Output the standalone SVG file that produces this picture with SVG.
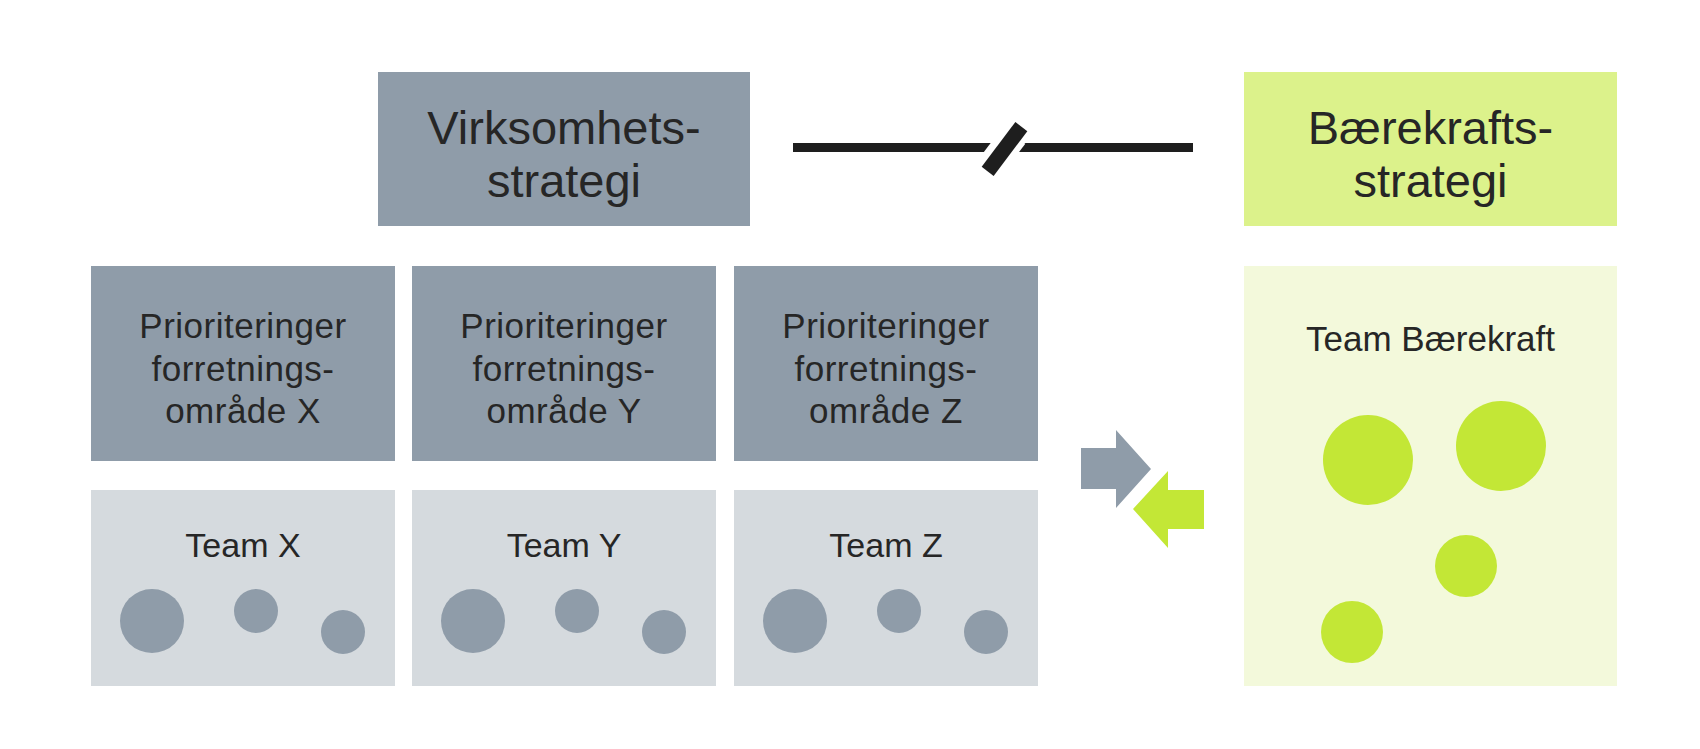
<svg xmlns="http://www.w3.org/2000/svg" width="1700" height="749" viewBox="0 0 1700 749">
  <style>
    .dark { fill: #8f9ca9; }
    .light { fill: #d5dade; }
    .ghead { fill: #dcf28b; }
    .gbody { fill: #f3f9db; }
    .gdot { fill: #c3e736; }
    .ddot { fill: #8f9ca9; }
    text { font-family: "Liberation Sans", Arial, sans-serif; fill: #262626; text-anchor: middle; }
    .h { font-size: 47px; }
    .p { font-size: 35px; }
    .t { font-size: 34px; }
  </style>
  <rect width="1700" height="749" fill="#ffffff"/>

  <g id="virksomhetsstrategi">
    <rect class="dark" x="378" y="72" width="372" height="154"/>
    <text class="h" x="564" y="144">Virksomhets-</text>
    <text class="h" x="564" y="197">strategi</text>
  </g>

  <g id="baerekraftsstrategi">
    <rect class="ghead" x="1244" y="72" width="373" height="154"/>
    <text class="h" x="1430.5" y="144">Bærekrafts-</text>
    <text class="h" x="1430.5" y="197">strategi</text>
  </g>

  <g id="prioriteringer-x">
    <rect class="dark" x="91" y="266" width="304" height="195"/>
    <text class="p" x="243" y="338" letter-spacing="0.5">Prioriteringer</text>
    <text class="p" x="243" y="381" letter-spacing="0.5">forretnings-</text>
    <text class="p" x="243" y="423" letter-spacing="0.5">område X</text>
  </g>
  <g id="prioriteringer-y">
    <rect class="dark" x="412" y="266" width="304" height="195"/>
    <text class="p" x="564" y="338" letter-spacing="0.5">Prioriteringer</text>
    <text class="p" x="564" y="381" letter-spacing="0.5">forretnings-</text>
    <text class="p" x="564" y="423" letter-spacing="0.5">område Y</text>
  </g>
  <g id="prioriteringer-z">
    <rect class="dark" x="734" y="266" width="304" height="195"/>
    <text class="p" x="886" y="338" letter-spacing="0.5">Prioriteringer</text>
    <text class="p" x="886" y="381" letter-spacing="0.5">forretnings-</text>
    <text class="p" x="886" y="423" letter-spacing="0.5">område Z</text>
  </g>

  <g id="team-x">
    <rect class="light" x="91" y="490" width="304" height="196"/>
    <text class="t" x="243" y="557">Team X</text>
    <circle class="ddot" cx="152" cy="621" r="32"/>
    <circle class="ddot" cx="256" cy="611" r="22"/>
    <circle class="ddot" cx="343" cy="632" r="22"/>
  </g>
  <g id="team-y">
    <rect class="light" x="412" y="490" width="304" height="196"/>
    <text class="t" x="564" y="557">Team Y</text>
    <circle class="ddot" cx="473" cy="621" r="32"/>
    <circle class="ddot" cx="577" cy="611" r="22"/>
    <circle class="ddot" cx="664" cy="632" r="22"/>
  </g>
  <g id="team-z">
    <rect class="light" x="734" y="490" width="304" height="196"/>
    <text class="t" x="886" y="557">Team Z</text>
    <circle class="ddot" cx="795" cy="621" r="32"/>
    <circle class="ddot" cx="899" cy="611" r="22"/>
    <circle class="ddot" cx="986" cy="632" r="22"/>
  </g>

  <g id="team-baerekraft">
    <rect class="gbody" x="1244" y="266" width="373" height="420"/>
    <text class="p" x="1430.5" y="351">Team Bærekraft</text>
    <circle class="gdot" cx="1368" cy="460" r="45"/>
    <circle class="gdot" cx="1501" cy="446" r="45"/>
    <circle class="gdot" cx="1466" cy="566" r="31"/>
    <circle class="gdot" cx="1352" cy="632" r="31"/>
  </g>

  <g id="connectors">
    <line x1="793" y1="147.5" x2="1193" y2="147.5" stroke="#1e1e1e" stroke-width="9"/>
    <rect x="-16" y="-14" width="32" height="28" fill="#ffffff" transform="translate(1004.5,148) rotate(-53)"/>
    <rect x="-28" y="-7.5" width="56" height="15" fill="#1e1e1e" transform="translate(1004.5,149) rotate(-53)"/>
    <polygon class="dark" points="1081,448 1116,448 1116,430 1151,469 1116,508 1116,489 1081,489"/>
    <polygon class="gdot" points="1204,490 1168,490 1168,471 1133,509 1168,548 1168,529 1204,529"/>
  </g>
</svg>
